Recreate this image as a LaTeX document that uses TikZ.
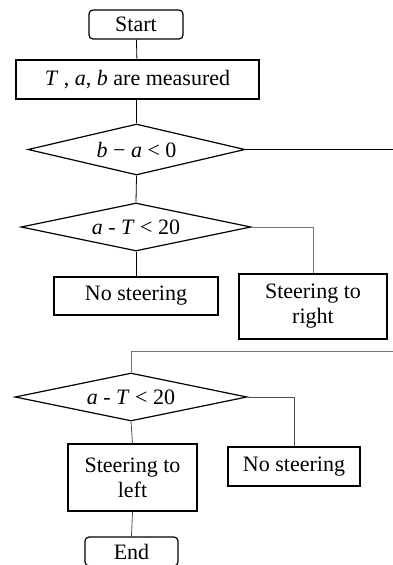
\documentclass[tikz,border=0pt]{standalone}
\usepackage{fontspec}
\setmainfont{Liberation Serif}
\usetikzlibrary{shapes.geometric}
\begin{document}
\begin{tikzpicture}[x=1pt,y=-1pt,
  every node/.style={font=\fontsize{22}{25}\selectfont, inner sep=0pt, align=center},
  term/.style={draw, rounded corners=4pt, line width=1.2pt},
  proc/.style={draw, rectangle, line width=1.2pt},
  dec/.style={draw, diamond, aspect=4, line width=1.2pt},
  conn/.style={line width=0.8pt, black},
  conng/.style={line width=0.8pt, black!55},
  conngd/.style={line width=0.8pt, black!70}]
\useasboundingbox (0,0) rectangle (393,565);
\clip (0,0) rectangle (393,565);
\node[term, minimum width=94pt, minimum height=29pt] (start) at (136,24.5) {Start};
\node[proc, minimum width=243pt, minimum height=39pt] (meas) at (137.5,79.5) {\textit{T} , \textit{a}, \textit{b} are measured};
\node[dec, minimum width=217pt, minimum height=51pt] (d1) at (136.5,149.5) {\textit{b} − \textit{a} < 0};
\node[dec, minimum width=230pt, minimum height=48pt] (d2) at (136,227) {\textit{a} - \textit{T} < 20};
\node[proc, minimum width=164pt, minimum height=38pt] (ns1) at (136,296) {No steering};
\node[proc, minimum width=148pt, minimum height=65pt] (sr) at (313,306.5) {Steering to\\right};
\node[dec, minimum width=232pt, minimum height=48pt] (d3) at (131,397) {\textit{a} - \textit{T} < 20};
\node[proc, minimum width=132pt, minimum height=39pt] (ns2) at (294,466.5) {No steering};
\node[proc, minimum width=129pt, minimum height=67pt] (sl) at (132.5,477.5) {Steering to\\left};
\node[term, minimum width=93pt, minimum height=29pt] (end) at (131.5,551.5) {End};
\coordinate (r1) at (393,149.5);
\coordinate (r2) at (393,351);
\draw[conn] (start) -- (meas);
\draw[conn] (meas.south -| d1.north) -- (d1.north);
\draw[conn] (d1.east) -- (r1);
\draw[conn] (d1.south) -- (d2.north);
\draw[conng] (d2.east) -| (sr.north);
\draw[conn] (d2.south) -- (ns1.north);
\draw[conng] (r2) -| (d3.north);
\draw[conngd] (d3.east) -| (ns2.north);
\draw[conngd] (d3.south) -- (sl.north);
\draw[conngd] (sl.south) -- (end.north);
\end{tikzpicture}
\end{document}
